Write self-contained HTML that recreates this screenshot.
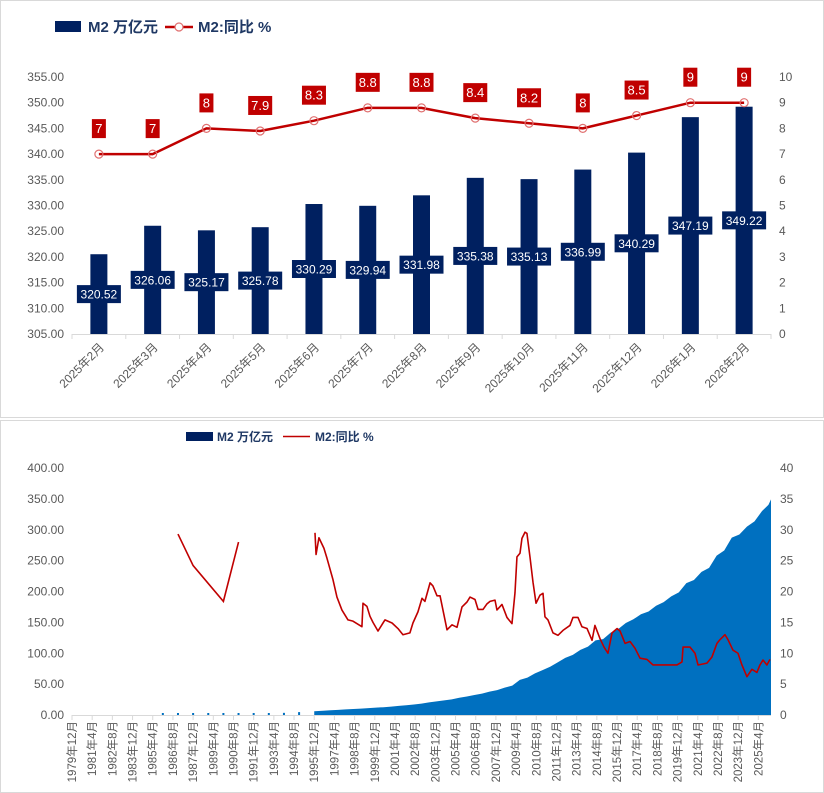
<!DOCTYPE html>
<html><head><meta charset="utf-8"><style>
body{margin:0;background:#fff;width:824px;height:793px;overflow:hidden;font-family:"Liberation Sans","Noto Sans CJK SC",sans-serif}
svg{position:absolute;left:0;top:0}
text{font-family:"Liberation Sans","Noto Sans CJK SC",sans-serif}
</style></head><body>
<svg id="c" width="824" height="793"></svg>
<script>
// ---- top chart data ----
const topCats=["2025年2月","2025年3月","2025年4月","2025年5月","2025年6月","2025年7月","2025年8月","2025年9月","2025年10月","2025年11月","2025年12月","2026年1月","2026年2月"];
const topM2=[320.52,326.06,325.17,325.78,330.29,329.94,331.98,335.38,335.13,336.99,340.29,347.19,349.22];
const topYoy=[7,7,8,7.9,8.3,8.8,8.8,8.4,8.2,8,8.5,9,9];
const topLeftTicks=[305,310,315,320,325,330,335,340,345,350,355];
const topRightTicks=[0,1,2,3,4,5,6,7,8,9,10];
// ---- bottom chart data (decimal years) ----
const preYears=[1985.92,1986.92,1987.92,1988.92,1989.92,1990.92,1991.92,1992.92,1993.92,1994.92];
const preM2=[0.52,0.67,0.83,1.01,1.19,1.53,1.93,2.54,3.49,4.69];
const m2Years=[1995.92,1996.5,1997.0,1997.5,1998.0,1998.5,1999.0,1999.5,2000.0,2000.5,2001.0,2001.5,2002.0,2002.5,2003.0,2003.5,2004.0,2004.5,2005.0,2005.5,2006.0,2006.5,2007.0,2007.5,2008.0,2008.5,2009.0,2009.5,2010.0,2010.5,2011.0,2011.5,2012.0,2012.5,2013.0,2013.5,2014.0,2014.5,2015.0,2015.5,2016.0,2016.5,2017.0,2017.5,2018.0,2018.5,2019.0,2019.5,2020.0,2020.5,2021.0,2021.5,2022.0,2022.5,2023.0,2023.5,2024.0,2024.5,2025.0,2025.5,2025.92,2026.09];
const m2Vals=[6.1,6.9,7.6,8.3,9.1,9.7,10.4,11.2,12.0,12.6,13.5,14.8,15.8,17.1,18.5,20.4,22.1,23.6,25.3,28.0,29.9,32.3,34.6,37.8,40.3,44.3,47.5,56.9,60.6,67.4,72.6,78.1,85.2,92.5,97.4,105.4,110.7,120.9,122.8,133.3,139.2,149.0,155.0,163.1,167.7,177.0,182.7,192.1,198.6,213.5,218.7,231.8,238.3,258.1,266.4,287.3,292.3,305.0,313.5,330.3,340.3,349.2];
const earlyYoyYears=[1986.92,1987.92,1989.92,1990.92];
const earlyYoy=[29.3,24.2,18.4,28.0];
const yoyYears=[1995.97,1996.04,1996.23,1996.56,1996.76,1997.16,1997.42,1997.75,1998.15,1998.48,1999.07,1999.14,1999.40,1999.60,1999.80,2000.13,2000.59,2001.06,2001.45,2001.78,2002.24,2002.44,2002.77,2003.04,2003.23,2003.57,2003.76,2004.03,2004.23,2004.69,2005.02,2005.35,2005.68,2006.01,2006.21,2006.54,2006.74,2007.07,2007.33,2007.53,2007.86,2007.99,2008.32,2008.65,2008.98,2009.18,2009.31,2009.51,2009.64,2009.84,2009.97,2010.17,2010.37,2010.57,2010.83,2011.03,2011.16,2011.36,2011.69,2012.02,2012.35,2012.81,2013.01,2013.34,2013.60,2013.94,2014.27,2014.46,2014.79,2015.06,2015.32,2015.59,2015.92,2016.12,2016.45,2016.78,2017.11,2017.44,2017.90,2018.30,2019.22,2019.88,2020.21,2020.28,2020.74,2021.07,2021.27,2021.86,2022.19,2022.52,2022.72,2023.05,2023.25,2023.58,2023.91,2024.17,2024.50,2024.83,2025.16,2025.36,2025.56,2025.82,2026.02];
const yoyVals=[29.5,26,28.7,27,25.4,21.9,19.1,17,15.4,15.2,14.3,18.1,17.6,16,15,13.6,15.4,14.9,14,13,13.3,14.9,16.7,18.9,18.4,21.4,20.9,19.3,19.3,13.8,14.6,14.2,17.5,18.3,19.1,18.7,17.1,17.1,18.0,18.4,18.6,17,17.9,15.8,14.8,19.8,25.6,26.2,28.6,29.6,29.4,25.6,21.5,18.1,19.4,19.7,15.9,15.4,13.3,12.9,13.7,14.5,15.8,15.8,14.3,14.0,12.1,14.5,12.4,11.0,10.0,13.3,14.0,13.6,11.6,11.9,10.8,9.2,9.0,8.1,8.1,8.1,8.6,11.0,11.0,10.0,8.1,8.4,9.4,11.6,12.2,13.0,12.2,10.5,10.0,8.1,6.2,7.4,6.9,8.1,8.9,8.1,9.0];
const bottomLeftTicks=[0,50,100,150,200,250,300,350,400];
const bottomRightTicks=[0,5,10,15,20,25,30,35,40];

const NS="http://www.w3.org/2000/svg";
const svg=document.getElementById('c');
function el(tag,attrs,parent){const e=document.createElementNS(NS,tag);for(const k in attrs)e.setAttribute(k,attrs[k]);(parent||svg).appendChild(e);return e;}
function txt(s,attrs,parent){const e=el('text',attrs,parent);e.textContent=s;return e;}

let f=el('rect',{x:0.5,y:0.5,width:823,height:417,fill:'none',stroke:'#d9d9d9'});


f=el('rect',{x:0.5,y:420.5,width:823,height:372,fill:'none',stroke:'#d9d9d9'});



// ===== TOP CHART =====
const T={l:72,r:771,t:77,b:334};
const tStep=(T.r-T.l)/topCats.length;
const tx=i=>T.l+tStep*(i+0.5);
const tyL=v=>T.b-(v-305)/(355-305)*(T.b-T.t);
const tyR=v=>T.b-v/10*(T.b-T.t);
const gTop=el('g',{});


let lg=el('g',{},gTop);


el('rect',{x:55,y:21,width:26,height:11,fill:'#002060'},lg);
txt('M2 万亿元',{x:88,y:32,'font-size':15,'font-weight':'bold',fill:'#1f3864'},lg);
el('line',{x1:165,y1:27,x2:193,y2:27,stroke:'#c00000','stroke-width':2.5},lg);
el('circle',{cx:179,cy:27,r:4,fill:'#fff',stroke:'#e07070','stroke-width':1.2},lg);
txt('M2:同比 %',{x:198,y:32,'font-size':15,'font-weight':'bold',fill:'#1f3864'},lg);
topLeftTicks.forEach(v=>{const t=txt(v.toFixed(2),{x:64,y:tyL(v)+4,'font-size':12,fill:'#595959','text-anchor':'end'},gTop);});
topRightTicks.forEach(v=>{const t=txt(String(v),{x:779,y:tyR(v)+4,'font-size':12,fill:'#595959'},gTop);});
el('line',{x1:T.l,y1:T.b+0.5,x2:T.r,y2:T.b+0.5,stroke:'#d9d9d9'},gTop);
for(let i=0;i<=topCats.length;i++){el('line',{x1:T.l+tStep*i,y1:T.b,x2:T.l+tStep*i,y2:T.b+5,stroke:'#d9d9d9'},gTop);}
topM2.forEach((v,i)=>{
  const y=tyL(v);
  const b=el('rect',{x:tx(i)-8.5,y:y,width:17,height:T.b-y,fill:'#002060'},gTop);
  
  
  const cy=(y+T.b)/2;
  el('rect',{x:tx(i)-22,y:cy-9,width:44,height:18,fill:'#002060'},gTop);
  const l=txt(v.toFixed(2),{x:tx(i),y:cy+4.5,'font-size':12,fill:'#fff','text-anchor':'middle'},gTop);
  
  
});
const pts=topYoy.map((v,i)=>tx(i)+','+tyR(v)).join(' ');
const pl=el('polyline',{points:pts,fill:'none',stroke:'#c00000','stroke-width':2.5},gTop);


topYoy.forEach((v,i)=>{
  const c=el('circle',{cx:tx(i),cy:tyR(v),r:4,fill:'none',stroke:'#e07070','stroke-width':1.2},gTop);
  
  
  const s=String(v);const w=s.length>1?24:14;
  const cy=tyR(v)-26;
  el('rect',{x:tx(i)-w/2,y:cy-9,width:w,height:19,fill:'#c00000'},gTop);
  const l=txt(s,{x:tx(i),y:cy+5,'font-size':13,fill:'#fff','text-anchor':'middle'},gTop);
  
  
});
topCats.forEach((c,i)=>{
  const x=tx(i)+6,y=T.b+14;
  const t=txt(c,{x:x,y:y,'font-size':12,fill:'#595959','text-anchor':'end',transform:`rotate(-45 ${x} ${y})`},gTop);
  
  
});

// ===== BOTTOM CHART =====
const B={l:72,r:771,t:468,b:715};
const y0=1979.92, y1=2026.09;
const bx=yr=>B.l+(yr-y0)/(y1-y0)*(B.r-B.l);
const byL=v=>B.b-v/400*(B.b-B.t);
const byR=v=>B.b-v/40*(B.b-B.t);
const gB=el('g',{});


lg=el('g',{},gB);


el('rect',{x:186,y:432,width:27,height:9,fill:'#002060'},lg);
txt('M2 万亿元',{x:217,y:441,'font-size':12,'font-weight':'bold',fill:'#1f3864'},lg);
el('line',{x1:283,y1:436.5,x2:310,y2:436.5,stroke:'#c00000','stroke-width':1.5},lg);
txt('M2:同比 %',{x:315,y:441,'font-size':12,'font-weight':'bold',fill:'#1f3864'},lg);
bottomLeftTicks.forEach(v=>{const t=txt(v.toFixed(2),{x:64,y:byL(v)+4,'font-size':12,fill:'#595959','text-anchor':'end'},gB);});
bottomRightTicks.forEach(v=>{const t=txt(String(v),{x:780,y:byR(v)+4,'font-size':12,fill:'#595959'},gB);});
preM2.forEach((v,i)=>{
  const h=Math.max(v/400*(B.b-B.t),2);
  const r=el('rect',{x:bx(preYears[i])-1,y:B.b-h,width:2,height:h,fill:'#0070c0'},gB);
  
  
});
let d=`M${bx(m2Years[0])},${B.b}`;
m2Vals.forEach((v,i)=>{d+=` L${bx(m2Years[i])},${byL(v)}`;});
d+=` L${bx(m2Years[m2Years.length-1])},${B.b} Z`;
const ar=el('path',{d:d,fill:'#0070c0'},gB);


el('line',{x1:B.l,y1:B.b+0.5,x2:B.r,y2:B.b+0.5,stroke:'#d9d9d9'},gB);
for(let k=0;k<=34;k++){
  const m=k*16; const yr=y0+m/12;
  const x=bx(yr);
  el('line',{x1:x,y1:B.b,x2:x,y2:B.b+5,stroke:'#d9d9d9'},gB);
  const tot=1979*12+11+m; const Y=Math.floor(tot/12), M=tot%12+1;
  const t=txt(`${Y}年${M}月`,{x:x+4,y:B.b+6,'font-size':11.5,fill:'#595959','text-anchor':'end',transform:`rotate(-90 ${x+4} ${B.b+6})`},gB);
  
  
}
const e1=el('polyline',{points:earlyYoy.map((v,i)=>bx(earlyYoyYears[i])+','+byR(v)).join(' '),fill:'none',stroke:'#c00000','stroke-width':1.6},gB);


const e2=el('polyline',{points:yoyVals.map((v,i)=>bx(yoyYears[i])+','+byR(v)).join(' '),fill:'none',stroke:'#c00000','stroke-width':1.6,'stroke-linejoin':'round'},gB);


</script>
</body></html>
